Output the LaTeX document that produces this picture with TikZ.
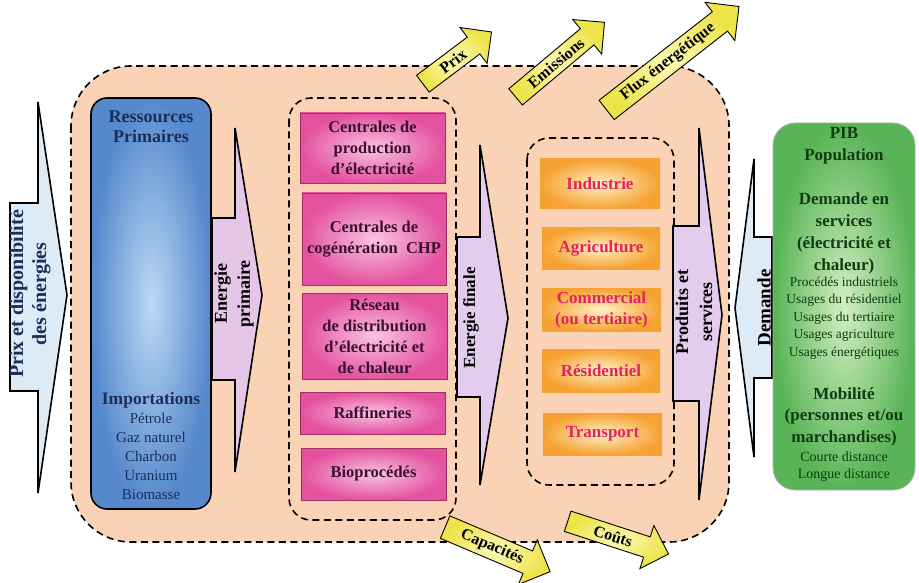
\documentclass[tikz,border=0pt]{standalone}
\usepackage{fontspec}
\setmainfont{Liberation Serif}
\usetikzlibrary{shapes.arrows}
\definecolor{peach}{HTML}{FAD3B6}
\definecolor{navy}{HTML}{1C2F5C}
\definecolor{lblue}{HTML}{DCEBF5}
\definecolor{lilac}{HTML}{E6C6E6}
\definecolor{lav}{HTML}{E4CCEE}
\definecolor{blueout}{HTML}{5588CC}
\definecolor{bluein}{HTML}{BCD9F4}
\definecolor{pinkout}{HTML}{E4529F}
\definecolor{pinkin}{HTML}{F9C3E2}
\definecolor{pinkedge}{HTML}{A0305E}
\definecolor{maroon}{HTML}{3A1030}
\definecolor{orout}{HTML}{F6A232}
\definecolor{orin}{HTML}{FFF0C6}
\definecolor{crimson}{HTML}{E0245E}
\definecolor{greenout}{HTML}{58B456}
\definecolor{greenin}{HTML}{D4EEC4}
\definecolor{dgreen}{HTML}{0F3D12}
\definecolor{yout}{HTML}{EDE44A}
\definecolor{yin}{HTML}{FCF9B8}
\begin{document}
\begin{tikzpicture}[x=1pt,y=-1pt,
  bigarrow/.style={draw=black, line width=1.6pt, line join=miter},
  arrowtext/.style={rotate=90, font=\bfseries\fontsize{17}{22}\selectfont, align=center, inner sep=0pt},
  dashbox/.style={draw=black, line width=1.6pt, dash pattern=on 7pt off 4.5pt},
  pinkbox/.style={draw=pinkedge, line width=0.8pt, inner color=pinkin, outer color=pinkout, text=maroon, font=\bfseries\fontsize{16.5}{21}\selectfont, align=center, inner sep=0pt},
  orangebox/.style={inner color=orin, outer color=orout, text=crimson, font=\bfseries\fontsize{17}{21}\selectfont, align=center, inner sep=0pt},
  bluetext/.style={text=navy, align=center, inner sep=0pt},
  greentext/.style={text=dgreen, align=center, inner sep=0pt},
  yarrow/.style={single arrow, draw=black, line width=0.9pt, inner color=yin, outer color=yout, font=\bfseries\fontsize{16}{16}\selectfont, single arrow head extend=12pt, inner sep=4.5pt, anchor=center}
]
\useasboundingbox (0,0) rectangle (919,583);

% big arrow: Prix et disponibilite
\draw[bigarrow, fill=lblue] (10,203) -- (38,203) -- (38,102) -- (67,295) -- (38,493) -- (38,391) -- (10,391) -- cycle;
\node[arrowtext, text=navy, font=\bfseries\fontsize{20}{23}\selectfont] (prixdisp) at (30,294) {Prix et disponibilité\\des énergies};

% big orange region
\draw[dashbox, fill=peach, rounded corners=60pt] (71,66) rectangle (729,542);

% Ressources primaires
\node[draw=black, line width=1.6pt, rounded corners=16pt, inner color=bluein, outer color=blueout, minimum width=120pt, minimum height=411pt] (ress) at (151,303.5) {};
\node[bluetext, font=\bfseries\fontsize{18}{20}\selectfont] (resstitle) at (151,127) {Ressources\\Primaires};
\node[bluetext, font=\bfseries\fontsize{17.5}{20}\selectfont] (imp) at (151,400) {Importations};
\node[bluetext, font=\fontsize{15}{19}\selectfont] (implist) at (151,456) {Pétrole\\Gaz naturel\\Charbon\\Uranium\\Biomasse};

% Energie primaire arrow
\draw[bigarrow, fill=lilac] (212,218) -- (235,218) -- (235,128) -- (262,295) -- (235,472) -- (235,380) -- (212,380) -- cycle;
\node[arrowtext, font=\bfseries\fontsize{18}{23}\selectfont] (eprim) at (234,294) {Energie\\primaire};

% inner dashed 1
\draw[dashbox, rounded corners=22pt] (289,98) rectangle (456,520);
\node[pinkbox, minimum width=145pt, minimum height=70pt] (cprod) at (372.5,148) {Centrales de\\production\\d’électricité};
\node[pinkbox, minimum width=144pt, minimum height=92pt] (ccog) at (374,239) {Centrales de\\cogénération~~CHP};
\node[pinkbox, minimum width=145pt, minimum height=86pt] (reseau) at (374.5,336) {Réseau\\de distribution\\d’électricité et\\de chaleur};
\node[pinkbox, minimum width=145pt, minimum height=42pt] (raff) at (372.5,413) {Raffineries};
\node[pinkbox, minimum width=145pt, minimum height=52pt] (bio) at (373.5,474) {Bioprocédés};

% Energie finale arrow
\draw[bigarrow, fill=lav] (457,237) -- (480,237) -- (480,145) -- (508,318) -- (480,485) -- (480,397) -- (457,397) -- cycle;
\node[arrowtext] (efin) at (471,318) {Energie finale};

% inner dashed 2
\draw[dashbox, rounded corners=22pt] (527,138) rectangle (674,485);
\node[orangebox, minimum width=120pt, minimum height=50pt] (ind) at (600,184) {Industrie};
\node[orangebox, minimum width=118pt, minimum height=42pt] (agr) at (601,248) {Agriculture};
\node[orangebox, minimum width=119pt, minimum height=43pt] (com) at (601.5,309.5) {Commercial\\(ou tertiaire)};
\node[orangebox, minimum width=118pt, minimum height=43pt] (res) at (601,370.5) {Résidentiel};
\node[orangebox, minimum width=119pt, minimum height=42pt] (tra) at (602.5,434) {Transport};

% Produits et services arrow
\draw[bigarrow, fill=lav] (673,226) -- (699,226) -- (699,128) -- (722,315) -- (699,500) -- (699,401) -- (673,401) -- cycle;
\node[arrowtext, font=\bfseries\fontsize{18}{24}\selectfont] (prod) at (694,312) {Produits et\\services};

% Demande arrow
\draw[bigarrow, fill=lblue] (772,237) -- (754,237) -- (754,159) -- (735,308) -- (754,457) -- (754,378) -- (772,378) -- cycle;
\node[arrowtext, font=\bfseries\fontsize{19}{22}\selectfont] (dem) at (764,308) {Demande};

% Green box
\node[draw=gray!60, line width=0.8pt, rounded corners=22pt, inner color=greenin, outer color=greenout, minimum width=142pt, minimum height=367pt] (green) at (844,306.5) {};
\node[greentext, font=\bfseries\fontsize{17}{22}\selectfont] (pib) at (844,146) {PIB\\Population};
\node[greentext, font=\bfseries\fontsize{17}{22}\selectfont] (demserv) at (844,233) {Demande~en\\services\\(électricité et\\chaleur)};
\node[greentext, font=\fontsize{13.5}{17.5}\selectfont] (usages) at (844,318) {Procédés industriels\\Usages du résidentiel\\Usages du tertiaire\\Usages agriculture\\Usages énergétiques};
\node[greentext, font=\bfseries\fontsize{17}{21.5}\selectfont] (mob) at (844,416.5) {Mobilité\\(personnes et/ou\\marchandises)};
\node[greentext, font=\fontsize{14}{17}\selectfont] (dist) at (844,466.5) {Courte distance\\Longue distance};

% yellow arrows
\node[yarrow, rotate=37, minimum height=86pt] (yprix) at (453,61) {Prix};
\node[yarrow, rotate=40, minimum height=116pt] (yemis) at (556,63) {Emissions};
\node[yarrow, rotate=38, minimum height=168pt] (yflux) at (668,62) {Flux énergétique};
\node[yarrow, rotate=-23, minimum height=114pt] (ycap) at (492,547) {Capacités};
\node[yarrow, rotate=-18, minimum height=106pt] (ycout) at (613,536) {Coûts};
\end{tikzpicture}
\end{document}
